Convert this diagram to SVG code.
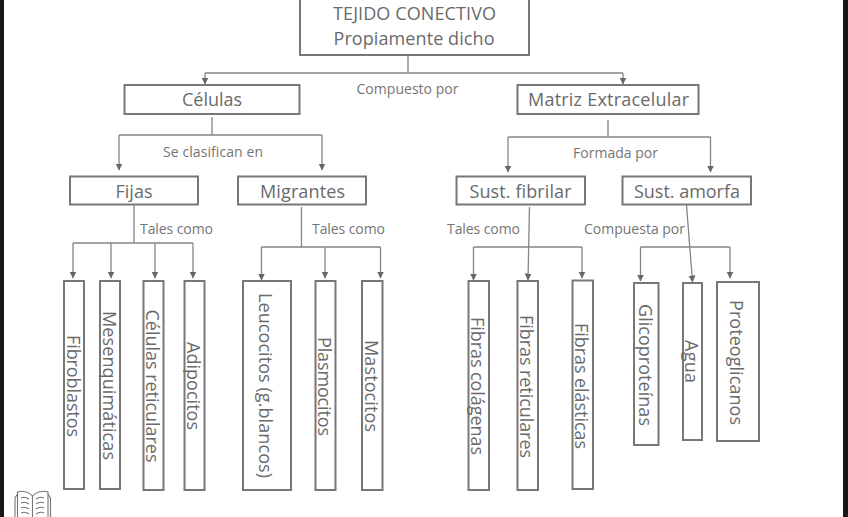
<svg xmlns="http://www.w3.org/2000/svg" width="848" height="517" viewBox="0 0 848 517">
<style>
.n{fill:#fff;stroke:#777;stroke-width:2}
.c{fill:none;stroke:#858585;stroke-width:1.3}
.a{marker-end:url(#m)}
text{font-family:"Open Sans","Noto Sans","Liberation Sans",sans-serif;fill:#6a6a6a}
.t{font-size:18px;text-anchor:middle}
.l{font-size:14px;fill:#757575}
.v{font-size:18px;text-anchor:middle;lengthAdjust:spacing}
.b{fill:none;stroke:#777;stroke-width:1.1}
</style>
<defs><marker id="m" markerUnits="userSpaceOnUse" markerWidth="8" markerHeight="8" refX="6.500" refY="4" orient="auto"><path d="M0 .5L7 4L0 7.500Z" fill="#666"/></marker></defs>
<rect width="848" height="517" fill="#fff"/>
<rect width="4" height="517" fill="#16171a"/>
<rect x="843" width="5" height="517" fill="#16171a"/>
<g id="connectors">
<path class="c" d="M408 55V73M205 73H623"/>
<path class="c a" d="M205 73V84"/><path class="c a" d="M623 73V84"/>
<path class="c" d="M212 117V135M119 135H322"/>
<path class="c a" d="M119 135V170"/><path class="c a" d="M322 135V170"/>
<path class="c" d="M608 120V137M508 137H710.500"/>
<path class="c a" d="M508 137V172"/><path class="c a" d="M710.500 137V172"/>
<path class="c" d="M134 205V243M73 243H193"/>
<path class="c a" d="M73 243V278"/><path class="c a" d="M111 243V278"/><path class="c a" d="M155 243V278"/><path class="c a" d="M193 243V278"/>
<path class="c" d="M301.500 207V247M261.500 247H380.500"/>
<path class="c a" d="M261.500 247V280"/><path class="c a" d="M325 247V278"/><path class="c a" d="M380.500 247V278"/>
<path class="c" d="M473.500 247H582"/>
<path class="c a" d="M473.500 247V280"/><path class="c a" d="M529.500 207L528 280"/><path class="c a" d="M582 247V278"/>
<path class="c" d="M640.500 247H730"/>
<path class="c a" d="M640.500 247V281"/><path class="c a" d="M686.500 205L692.500 282"/><path class="c a" d="M730 247V278"/>
</g>
<g id="n-root"><rect class="n" x="300" y="-4" width="229" height="59"/><text class="t" x="414.500" y="20" textLength="163">TEJIDO CONECTIVO</text><text class="t" x="414" y="45" textLength="161">Propiamente dicho</text></g>
<g id="n-celulas"><rect class="n" x="124.500" y="85" width="175" height="29"/><text class="t" x="212" y="106" textLength="60">Células</text></g>
<g id="n-matriz"><rect class="n" x="517.500" y="85" width="181" height="29"/><text class="t" x="608.500" y="106" textLength="161">Matriz Extracelular</text></g>
<g id="n-fijas"><rect class="n" x="70" y="176.500" width="128" height="28"/><text class="t" x="134" y="198">Fijas</text></g>
<g id="n-migrantes"><rect class="n" x="238" y="176.500" width="128" height="28"/><text class="t" x="302.500" y="198" textLength="85">Migrantes</text></g>
<g id="n-fibrilar"><rect class="n" x="456.500" y="176.500" width="128.500" height="28"/><text class="t" x="520.500" y="198" textLength="102">Sust. fibrilar</text></g>
<g id="n-amorfa"><rect class="n" x="622.500" y="176.500" width="128.500" height="28"/><text class="t" x="687" y="198" textLength="106">Sust. amorfa</text></g>
<g id="labels">
<text class="l" x="356.500" y="94" textLength="102">Compuesto por</text>
<text class="l" x="163" y="157" textLength="100">Se clasifican en</text>
<text class="l" x="573" y="158" textLength="85">Formada por</text>
<text class="l" x="140" y="234" textLength="73">Tales como</text>
<text class="l" x="312" y="234" textLength="73">Tales como</text>
<text class="l" x="447" y="234" textLength="73">Tales como</text>
<text class="l" x="584" y="234" textLength="101">Compuesta por</text>
</g>
<g id="n-fibroblastos"><rect class="n" x="64" y="281" width="20" height="208"/><text class="v" transform="translate(67 386) rotate(90)" textLength="102">Fibroblastos</text></g>
<g id="n-mesenq"><rect class="n" x="100" y="281" width="20" height="208"/><text class="v" transform="translate(103 385.500) rotate(90)" textLength="149">Mesenquimáticas</text></g>
<g id="n-cel-ret"><rect class="n" x="143.500" y="281" width="20" height="209"/><text class="v" transform="translate(146 386) rotate(90)" textLength="153">Células reticulares</text></g>
<g id="n-adipocitos"><rect class="n" x="184.500" y="281" width="20" height="209"/><text class="v" transform="translate(187 386) rotate(90)" textLength="88">Adipocitos</text></g>
<g id="n-leucocitos"><rect class="n" x="243" y="281" width="48" height="209"/><text class="v" transform="translate(259 385.500) rotate(90)" textLength="185">Leucocitos (g.blancos)</text></g>
<g id="n-plasmocitos"><rect class="n" x="315.500" y="281" width="20" height="209"/><text class="v" transform="translate(318 386.500) rotate(90)" textLength="99">Plasmocitos</text></g>
<g id="n-mastocitos"><rect class="n" x="362" y="281" width="20.500" height="209"/><text class="v" transform="translate(365 386) rotate(90)" textLength="92">Mastocitos</text></g>
<g id="n-colagenas"><rect class="n" x="468.500" y="281" width="20.500" height="209"/><text class="v" transform="translate(471 386) rotate(90)" textLength="138">Fibras colágenas</text></g>
<g id="n-reticulares"><rect class="n" x="517.500" y="281" width="20.500" height="209"/><text class="v" transform="translate(520 386.500) rotate(90)" textLength="143">Fibras reticulares</text></g>
<g id="n-elasticas"><rect class="n" x="572.500" y="280.500" width="20.500" height="208.500"/><text class="v" transform="translate(575 386) rotate(90)" textLength="126">Fibras elásticas</text></g>
<g id="n-glico"><rect class="n" x="634" y="283" width="24.500" height="162"/><text class="v" transform="translate(639 365) rotate(90)" textLength="122">Glicoproteínas</text></g>
<g id="n-agua"><rect class="n" x="683" y="283" width="19" height="157"/><text class="v" transform="translate(685 361.500) rotate(90)" textLength="43">Agua</text></g>
<g id="n-proteo"><rect class="n" x="717" y="282" width="42" height="159"/><text class="v" transform="translate(730 362.500) rotate(90)" textLength="125">Proteoglicanos</text></g>
<g id="book">
<path class="b" d="M32.500 496C29 492 22 490 17.500 492V517M32.500 496C36 492 43 490 48 492V517M32.500 496V517"/>
<path class="b" d="M17.500 494L15 498V517M48 494L50.500 498V517"/>
<path class="b" d="M21 498Q25 496 29 499M21 503Q25 501 29 504M21 508Q25 506 29 509M21 513Q25 511 29 514M36 499Q40 496 44 498M36 504Q40 501 44 503M36 509Q40 506 44 508M36 514Q40 511 44 513"/>
</g>
</svg>
